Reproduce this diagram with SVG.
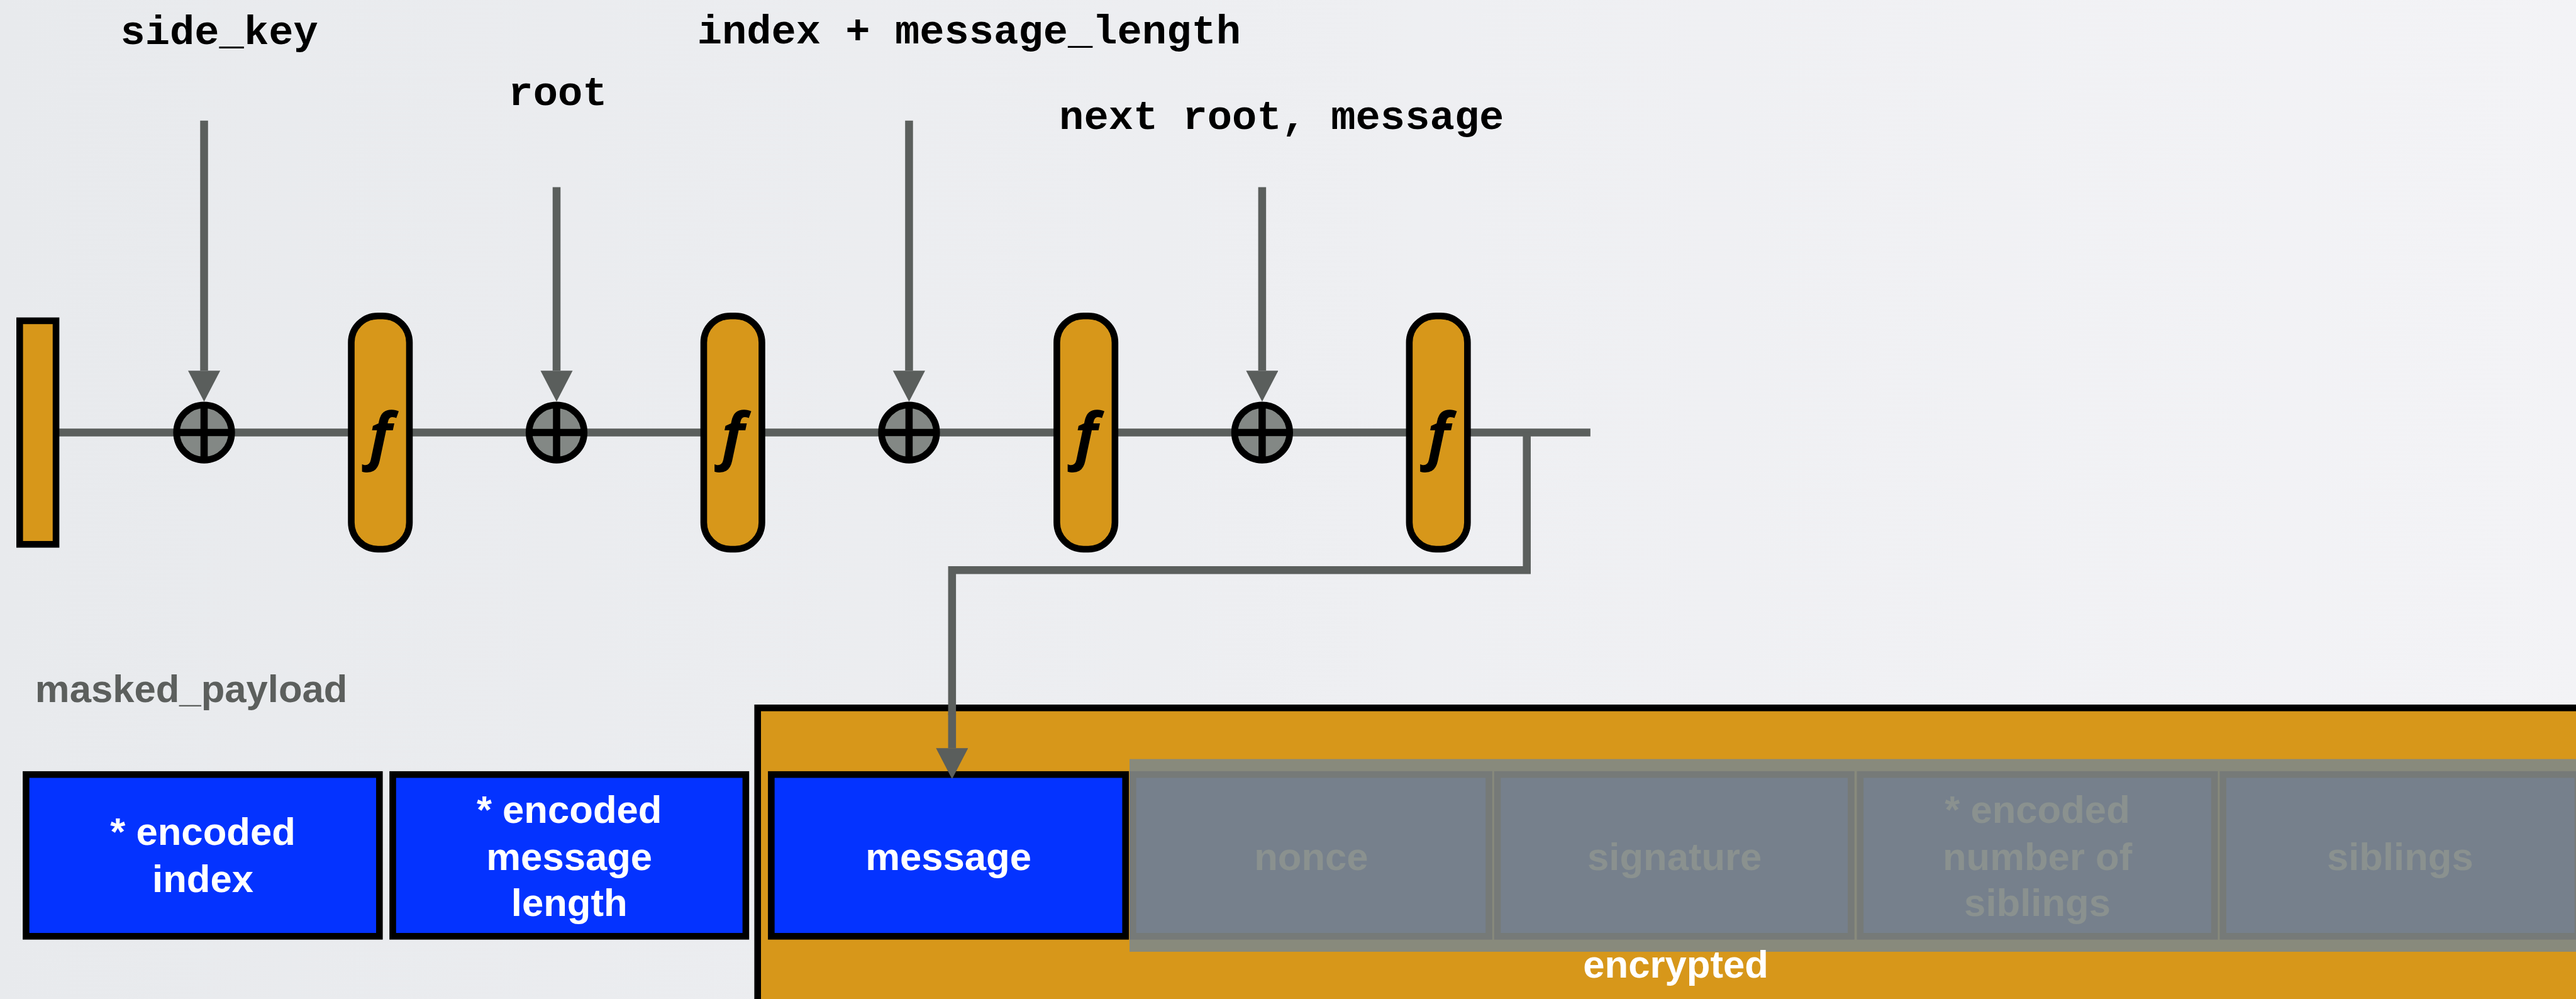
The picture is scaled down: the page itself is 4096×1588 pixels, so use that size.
<svg xmlns="http://www.w3.org/2000/svg" width="4096" height="1588" viewBox="0 0 4096 1588">
  <defs>
    <linearGradient id="bg" x1="0" y1="0" x2="1" y2="0">
      <stop offset="0" stop-color="#e8eaed"/>
      <stop offset="1" stop-color="#f3f3f6"/>
    </linearGradient>
    <marker id="head" viewBox="0 0 51 53" refX="0" refY="26.5" markerWidth="51" markerHeight="53" markerUnits="userSpaceOnUse" orient="auto">
      <path d="M0,0 L51,26.5 L0,53 z" fill="#5a5e5c"/>
    </marker>
    <style>
      .wire { fill: none; stroke: #5b5f5d; stroke-width: 13; }
      .arrow { fill: none; stroke: #5b5f5d; stroke-width: 13; marker-end: url(#head); }
      .orange { fill: #d7971a; stroke: #000; stroke-width: 11; }
      .xor circle { fill: #838885; stroke: #000; stroke-width: 11; }
      .xor line { stroke: #000; stroke-width: 12; }
      .fn { font-family: "Open Sans", "DejaVu Sans", sans-serif; font-weight: bold; font-style: italic; font-size: 103px; fill: #000; text-anchor: middle; }
      .mono { font-family: "Liberation Mono", "DejaVu Sans Mono", monospace; font-weight: bold; font-size: 68px; fill: #000; text-anchor: middle; }
      .field { fill: #0433ff; stroke: #000; stroke-width: 11; }
      .ghost { fill: #76808c; stroke: #767a78; stroke-width: 11; }
      .lbl { font-family: "Liberation Sans", Arial, sans-serif; font-weight: bold; font-size: 64px; text-anchor: middle; }
      .white { fill: #ffffff; }
      .dim { fill: #8a918f; }
    </style>
  </defs>

  <rect x="0" y="0" width="4096" height="1588" fill="url(#bg)"/>

  <g transform="scale(0.963)">
    <!-- enclosure of the encrypted part, runs off the right and bottom edges -->
    <g id="encrypted">
      <rect class="orange" x="1251" y="1168.5" width="3100" height="600"/>
      <rect x="1865" y="1253" width="2500" height="318" fill="#888a7c"/>
      <text class="lbl white" x="2767" y="1614">encrypted</text>
    </g>

    <!-- connectors -->
    <g id="connectors">
      <line class="wire" x1="60" y1="714" x2="2626" y2="714"/>
      <line class="arrow" x1="337" y1="199" x2="337" y2="612"/>
      <line class="arrow" x1="919" y1="309" x2="919" y2="612"/>
      <line class="arrow" x1="1501" y1="199" x2="1501" y2="612"/>
      <line class="arrow" x1="2084" y1="309" x2="2084" y2="612"/>
      <path class="wire" d="M2521,714 V941 H1572 V1180" stroke-linejoin="miter"/>
    </g>

    <!-- input labels -->
    <g id="labels">
      <text class="mono" x="362" y="73">side_key</text>
      <text class="mono" x="921" y="173">root</text>
      <text class="mono" x="1600" y="72">index + message_length</text>
      <text class="mono" x="2116" y="213">next root, message</text>
    </g>

    <!-- initial state block -->
    <g id="state">
      <rect class="orange" x="32.5" y="529.5" width="60" height="369"/>
    </g>

    <!-- xor nodes -->
    <g id="xor1" class="xor">
      <circle cx="337" cy="714" r="45.5"/>
      <line x1="337" y1="668" x2="337" y2="760"/><line x1="291" y1="714" x2="383" y2="714"/>
    </g>
    <g id="xor2" class="xor">
      <circle cx="919" cy="714" r="45.5"/>
      <line x1="919" y1="668" x2="919" y2="760"/><line x1="873" y1="714" x2="965" y2="714"/>
    </g>
    <g id="xor3" class="xor">
      <circle cx="1501" cy="714" r="45.5"/>
      <line x1="1501" y1="668" x2="1501" y2="760"/><line x1="1455" y1="714" x2="1547" y2="714"/>
    </g>
    <g id="xor4" class="xor">
      <circle cx="2084" cy="714" r="45.5"/>
      <line x1="2084" y1="668" x2="2084" y2="760"/><line x1="2038" y1="714" x2="2130" y2="714"/>
    </g>

    <!-- round functions -->
    <g id="f1"><rect class="orange" x="580" y="521.5" width="96" height="385" rx="44"/><text class="fn" x="628" y="755">f</text></g>
    <g id="f2"><rect class="orange" x="1162" y="521.5" width="96" height="385" rx="44"/><text class="fn" x="1210" y="755">f</text></g>
    <g id="f3"><rect class="orange" x="1745" y="521.5" width="96" height="385" rx="44"/><text class="fn" x="1793" y="755">f</text></g>
    <g id="f4"><rect class="orange" x="2327" y="521.5" width="96" height="385" rx="44"/><text class="fn" x="2375" y="755">f</text></g>

    <text id="payload-title" class="lbl" x="58" y="1159" style="text-anchor:start" fill="#5c5f5d">masked_payload</text>

    <!-- payload fields -->
    <g id="encoded-index">
      <rect class="field" x="43" y="1278.5" width="583.5" height="267"/>
      <text class="lbl white" x="335" y="1395">* encoded</text>
      <text class="lbl white" x="335" y="1473">index</text>
    </g>
    <g id="encoded-length">
      <rect class="field" x="648.5" y="1278.5" width="583" height="267"/>
      <text class="lbl white" x="940" y="1358">* encoded</text>
      <text class="lbl white" x="940" y="1436">message</text>
      <text class="lbl white" x="940" y="1512">length</text>
    </g>
    <g id="message">
      <rect class="field" x="1273.5" y="1278.5" width="585" height="267"/>
      <text class="lbl white" x="1566" y="1436">message</text>
    </g>
    <g id="nonce">
      <rect class="ghost" x="1870.5" y="1278.5" width="588" height="267"/>
      <text class="lbl dim" x="2165" y="1436">nonce</text>
    </g>
    <g id="signature">
      <rect class="ghost" x="2472.5" y="1278.5" width="584" height="267"/>
      <text class="lbl dim" x="2765" y="1436">signature</text>
    </g>
    <g id="encoded-siblings">
      <rect class="ghost" x="3071.5" y="1278.5" width="585" height="267"/>
      <text class="lbl dim" x="3364" y="1358">* encoded</text>
      <text class="lbl dim" x="3364" y="1436">number of</text>
      <text class="lbl dim" x="3364" y="1512">siblings</text>
    </g>
    <g id="siblings">
      <rect class="ghost" x="3670.5" y="1278.5" width="586" height="267"/>
      <text class="lbl dim" x="3963" y="1436">siblings</text>
    </g>

    <!-- arrowhead into the message field, drawn over its border -->
    <g id="message-arrow">
      <line class="arrow" x1="1572" y1="1178" x2="1572" y2="1235"/>
    </g>
  </g>
</svg>
